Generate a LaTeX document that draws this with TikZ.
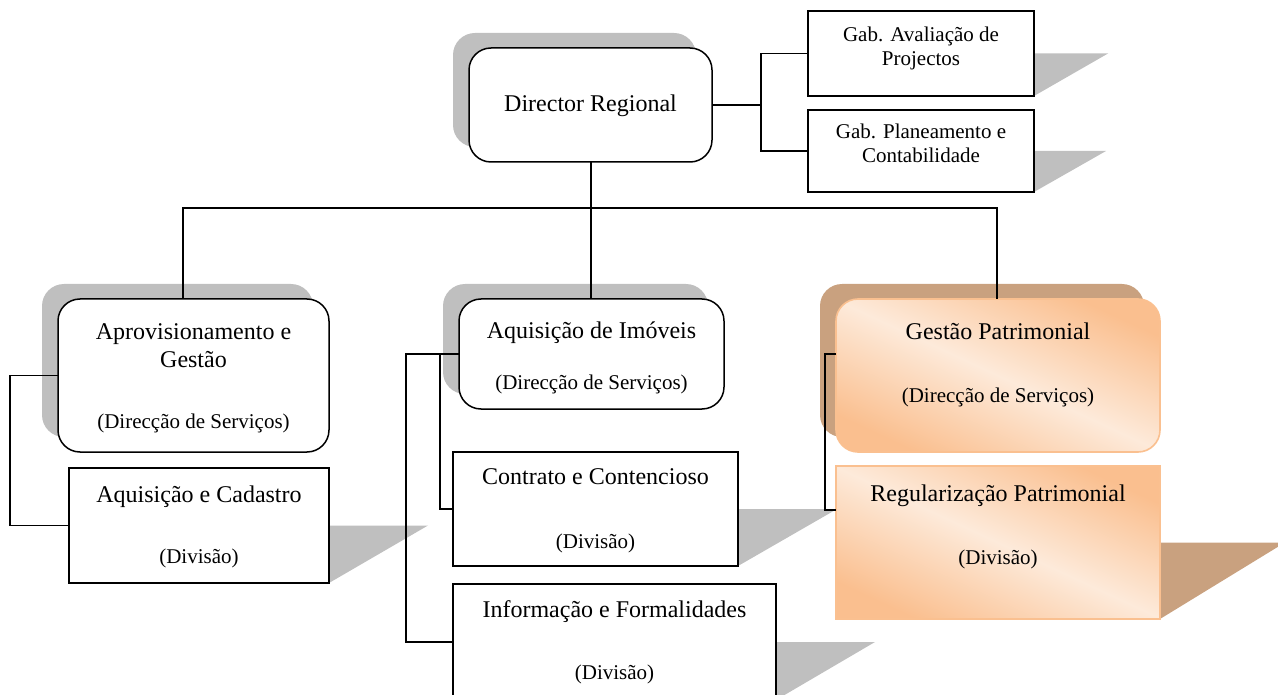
\documentclass[tikz,border=0pt]{standalone}
\usepackage{fontspec}
\setmainfont{Liberation Serif}
\usetikzlibrary{backgrounds,calc}
\definecolor{shgray}{RGB}{191,191,191}
\definecolor{shbrown}{RGB}{201,161,127}
\definecolor{orng}{RGB}{250,191,143}
\definecolor{peach}{RGB}{253,234,218}
\definecolor{oborder}{RGB}{250,192,144}
\begin{document}
\begin{tikzpicture}[x=1pt,y=-1pt,
  box/.style={draw=black, line width=1.5pt, fill=white, inner sep=0pt, outer sep=0pt},
  rbox/.style={box, rounded corners=22pt},
  obox/.style={draw=oborder, line width=1.6pt, inner sep=0pt, outer sep=0pt,
    top color=orng, bottom color=orng, middle color=peach, shading angle=-25},
  ttl/.style={font=\fontsize{24}{28}\selectfont, anchor=base, inner sep=0pt},
  sub/.style={font=\fontsize{21}{24}\selectfont, anchor=base, inner sep=0pt},
  conn/.style={draw=black, line width=1.5pt},
  tri/.style={fill=shgray},
]
\useasboundingbox (0,0) rectangle (1278,695);

% boxes
\node[rbox, minimum width=243pt, minimum height=114pt] (dir) at (590.5,105) {};
\node[box, minimum width=226pt, minimum height=85pt] (gab1) at (921,53.5) {};
\node[box, minimum width=226pt, minimum height=82pt] (gab2) at (921,151) {};
\node[rbox, minimum width=271pt, minimum height=153pt] (aprov) at (193.5,375.5) {};
\node[box, minimum width=260pt, minimum height=115pt] (acad) at (199,525.5) {};
\node[rbox, minimum width=265pt, minimum height=110pt] (aqi) at (591.5,354) {};
\node[box, minimum width=285pt, minimum height=114pt] (contr) at (595.5,509) {};
\node[box, minimum width=323pt, minimum height=116pt] (info) at (614.5,642) {};
\node[obox, rounded corners=22pt, minimum width=324pt, minimum height=153pt] (gest) at (998,375.5) {};
\node[obox, minimum width=324pt, minimum height=153pt] (regul) at (998,542.5) {};

% shadows
\begin{scope}[on background layer]
  \fill[shgray, rounded corners=22pt] ($(dir.south west)+(-16,-15)$) rectangle ($(dir.north east)+(-16,-15)$);
  \fill[shgray, rounded corners=22pt] ($(aprov.south west)+(-16,-15)$) rectangle ($(aprov.north east)+(-16,-15)$);
  \fill[shgray, rounded corners=22pt] ($(aqi.south west)+(-16,-15)$) rectangle ($(aqi.north east)+(-16,-15)$);
  \fill[shbrown, rounded corners=22pt] ($(gest.south west)+(-16,-15)$) rectangle ($(gest.north east)+(-16,-15)$);
  \fill[tri] (gab1.east) -- ++(74,0) -- (gab1.south east) -- cycle;
  \fill[tri] (gab2.east) -- ++(72,0) -- (gab2.south east) -- cycle;
  \fill[tri] (acad.east) -- ++(99,0) -- (acad.south east) -- cycle;
  \fill[tri] (contr.east) -- ++(99,0) -- (contr.south east) -- cycle;
  \fill[tri] (info.east) -- ++(99,0) -- (info.south east) -- cycle;
  \fill[shbrown] (regul.east) -- ++(125,0) -- (regul.south east) -- cycle;
\end{scope}

% texts
\node[ttl] (tdir) at (590.5,112) {Director Regional};
\node[sub] (tg1a) at (921,42) {Gab. Avaliação de};
\node[sub] (tg1b) at (921,66) {Projectos};
\node[sub] (tg2a) at (921,139) {Gab. Planeamento e};
\node[sub] (tg2b) at (921,163) {Contabilidade};
\node[ttl] (tapa) at (193.5,339) {Aprovisionamento e};
\node[ttl] (tapb) at (193.5,367) {Gestão};
\node[sub] (tapc) at (193.5,428) {(Direcção de Serviços)};
\node[ttl] (taca) at (199,502) {Aquisição e Cadastro};
\node[sub] (tacb) at (199,563) {(Divisão)};
\node[ttl] (taqa) at (591.5,338) {Aquisição de Imóveis};
\node[sub] (taqb) at (591.5,389) {(Direcção de Serviços)};
\node[ttl] (tcoa) at (595.5,484) {Contrato e Contencioso};
\node[sub] (tcob) at (595.5,548) {(Divisão)};
\node[ttl] (tina) at (614.5,617) {Informação e Formalidades};
\node[sub] (tinb) at (614.5,679) {(Divisão)};
\node[ttl] (tgea) at (998,339) {Gestão Patrimonial};
\node[sub] (tgeb) at (998,402) {(Direcção de Serviços)};
\node[ttl] (trea) at (998,501) {Regularização Patrimonial};
\node[sub] (treb) at (998,564) {(Divisão)};

% connectors
\draw[conn] (dir.east) -- ++(49,0) coordinate (jr);
\draw[conn] (gab1.west) -| (jr) |- (gab2.west);
\coordinate (bus) at ($(dir.south)+(0.5,46)$);
\draw[conn] ([xshift=0.5pt]dir.south) -- ([xshift=0.5pt]dir.south |- aqi.north);
\draw[conn] ([xshift=-10.5pt]aprov.north) |- (bus) -| ([xshift=-1pt]gest.north);
\draw[conn] (aprov.west) -- ++(-48,0) |- (acad.west);
\draw[conn] (aqi.west) -- ++(-53,0) |- (info.west);
\draw[conn] (aqi.west) ++(-19,0) |- (contr.west);
\draw[conn] ([yshift=21.5pt]gest.west) -- ++(-11,0) |- ([yshift=32.5pt]regul.west);
\end{tikzpicture}
\end{document}
